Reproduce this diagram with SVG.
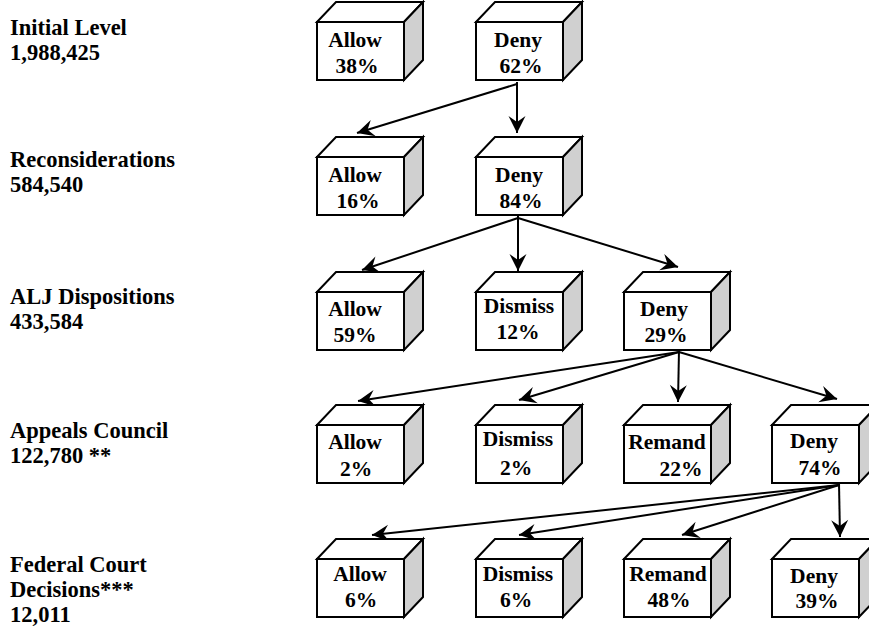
<svg xmlns="http://www.w3.org/2000/svg" width="869" height="631" viewBox="0 0 869 631">
<style>
.lbl{font-family:'Liberation Serif','DejaVu Serif','Noto Serif',Times,serif;font-weight:700;font-size:22.5px;fill:#000}
.bt{font-family:'Liberation Serif','DejaVu Serif','Noto Serif',Times,serif;font-weight:700;font-size:21.5px;fill:#000;text-anchor:middle}
.front{fill:#fff;stroke:#000;stroke-width:2}
.top{fill:#fff;stroke:#000;stroke-width:2;stroke-linejoin:miter}
.side{fill:#d0d0d0;stroke:#000;stroke-width:2}
.conn{fill:none;stroke:#000;stroke-width:2;marker-end:url(#ah)}
</style>
<defs>
<marker id="ah" markerUnits="userSpaceOnUse" orient="auto" markerWidth="20" markerHeight="20" viewBox="-18 -10 20 20" refX="0" refY="0">
<path d="M0,0 L-17,-8.5 L-11,0 L-17,8.5 Z" fill="#000"/>
</marker>
<g id="cube">
<polygon class="top" points="0,0 19,-20 106,-20 87,0"/>
<polygon class="side" points="87,0 106,-20 106,38 87,58"/>
<rect class="front" x="0" y="0" width="87" height="58"/>
</g>
</defs>
<rect width="869" height="631" fill="#fff"/>

<g id="labels">
<text class="lbl" x="10" y="35">Initial Level</text>
<text class="lbl" x="10" y="60">1,988,425</text>
<text class="lbl" x="10" y="167">Reconsiderations</text>
<text class="lbl" x="10" y="192">584,540</text>
<text class="lbl" x="10" y="304">ALJ Dispositions</text>
<text class="lbl" x="10" y="329">433,584</text>
<text class="lbl" x="10" y="438">Appeals Council</text>
<text class="lbl" x="10" y="463">122,780 **</text>
<text class="lbl" x="10" y="572">Federal Court</text>
<text class="lbl" x="10" y="597">Decisions***</text>
<text class="lbl" x="10" y="622">12,011</text>
</g>

<g id="connectors">
<path class="conn" d="M517,82 L517,133"/>
<path class="conn" d="M517,84 L357,133"/>
<path class="conn" d="M518,216 L518,271"/>
<path class="conn" d="M518,218 L362,270"/>
<path class="conn" d="M518,218 L678,267"/>
<path class="conn" d="M679,350 L678,402"/>
<path class="conn" d="M679,352 L358,401"/>
<path class="conn" d="M679,352 L519,400"/>
<path class="conn" d="M679,352 L837,399"/>
<path class="conn" d="M839,483 L840,537"/>
<path class="conn" d="M839,485 L372,535"/>
<path class="conn" d="M839,485 L519,535"/>
<path class="conn" d="M839,485 L682,535"/>
</g>

<g id="r1-allow"><use href="#cube" x="317" y="22"/><text class="bt" x="355" y="47">Allow</text><text class="bt" x="357" y="73">38%</text></g>
<g id="r1-deny"><use href="#cube" x="476" y="22"/><text class="bt" x="518" y="47">Deny</text><text class="bt" x="521" y="73">62%</text></g>

<g id="r2-allow"><use href="#cube" x="317" y="157"/><text class="bt" x="355" y="182">Allow</text><text class="bt" x="358" y="208">16%</text></g>
<g id="r2-deny"><use href="#cube" x="476" y="157"/><text class="bt" x="519" y="182">Deny</text><text class="bt" x="521" y="208">84%</text></g>

<g id="r3-allow"><use href="#cube" x="317" y="292"/><text class="bt" x="355" y="316">Allow</text><text class="bt" x="355" y="342">59%</text></g>
<g id="r3-dismiss"><use href="#cube" x="476" y="292"/><text class="bt" x="519" y="313">Dismiss</text><text class="bt" x="518" y="339">12%</text></g>
<g id="r3-deny"><use href="#cube" x="624" y="292"/><text class="bt" x="664" y="316">Deny</text><text class="bt" x="666" y="342">29%</text></g>

<g id="r4-allow"><use href="#cube" x="317" y="425"/><text class="bt" x="355" y="449">Allow</text><text class="bt" x="356" y="476">2%</text></g>
<g id="r4-dismiss"><use href="#cube" x="476" y="425"/><text class="bt" x="518" y="446">Dismiss</text><text class="bt" x="516" y="475">2%</text></g>
<g id="r4-remand"><use href="#cube" x="624" y="425"/><text class="bt" x="667" y="449">Remand</text><text class="bt" x="681" y="476">22%</text></g>
<g id="r4-deny"><use href="#cube" x="772" y="425"/><text class="bt" x="814" y="448">Deny</text><text class="bt" x="820" y="475">74%</text></g>

<g id="r5-allow"><use href="#cube" x="317" y="559"/><text class="bt" x="360" y="581">Allow</text><text class="bt" x="361" y="607">6%</text></g>
<g id="r5-dismiss"><use href="#cube" x="476" y="559"/><text class="bt" x="518" y="581">Dismiss</text><text class="bt" x="516" y="607">6%</text></g>
<g id="r5-remand"><use href="#cube" x="624" y="559"/><text class="bt" x="668" y="581">Remand</text><text class="bt" x="669" y="607">48%</text></g>
<g id="r5-deny"><use href="#cube" x="772" y="559"/><text class="bt" x="814" y="583">Deny</text><text class="bt" x="817" y="608">39%</text></g>
</svg>
